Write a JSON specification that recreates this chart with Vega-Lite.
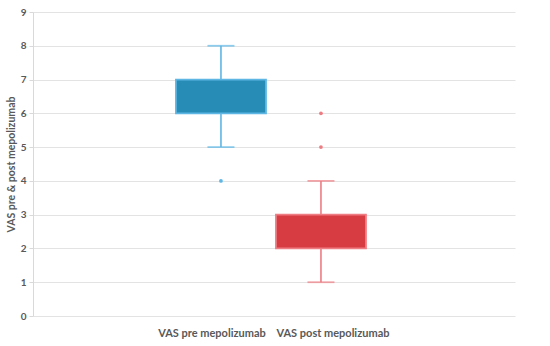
{
  "$schema": "https://vega.github.io/schema/vega-lite/v6.json",
  "width": 482,
  "height": 304,
  "autosize": {"type": "none"},
  "padding": {"left": 33, "top": 12, "right": 35, "bottom": 30},
  "background": "white",
  "config": {
    "view": {"stroke": null},
    "font": "Lato",
    "axis": {"labelFont": "Lato", "titleFont": "Lato"},
    "axisY": {
      "titleFontSize": 10.5,
      "titleFontWeight": "bold",
      "titleColor": "#595959",
      "titlePadding": 4,
      "labelOverlap": false,
      "labelFontSize": 10,
      "labelFontWeight": "bold",
      "labelColor": "#595959",
      "labelPadding": 3,
      "tickSize": 4,
      "tickColor": "#d9d9d9",
      "domainColor": "#d9d9d9",
      "gridColor": "#e3e3e3",
      "gridWidth": 1
    }
  },
  "datasets": {
    "boxes": [
      {"group": "VAS pre mepolizumab", "lower": 5, "q1": 6, "q3": 7, "upper": 8},
      {"group": "VAS post mepolizumab", "lower": 1, "q1": 2, "q3": 3, "upper": 4}
    ],
    "outliers": [
      {"group": "VAS pre mepolizumab", "value": 4},
      {"group": "VAS post mepolizumab", "value": 5},
      {"group": "VAS post mepolizumab", "value": 6}
    ]
  },
  "encoding": {
    "x": {
      "field": "group",
      "type": "nominal",
      "scale": {
        "domain": ["_l", "VAS pre mepolizumab", "VAS post mepolizumab", "_r"],
        "paddingInner": 0.1,
        "paddingOuter": 0.46,
        "align": 0.467
      },
      "axis": {
        "title": null,
        "labelAngle": 0,
        "ticks": false,
        "domain": false,
        "grid": false,
        "labelPadding": 11,
        "labelFontSize": 11,
        "labelFontWeight": "bold",
        "labelColor": "#595959",
        "labelExpr": "datum.value === '_l' || datum.value === '_r' ? '' : datum.label",
        "labelOffset": {"condition": {"test": "datum.value === 'VAS pre mepolizumab'", "value": -9}, "value": 12}
      }
    }
  },
  "layer": [
    {
      "data": {"name": "boxes"},
      "mark": {"type": "rule", "strokeWidth": 1.6},
      "encoding": {
        "y": {
          "field": "lower",
          "type": "quantitative",
          "scale": {"domain": [0, 9], "nice": false},
          "axis": {"title": "VAS pre & post mepolizumab", "values": [0, 1, 2, 3, 4, 5, 6, 7, 8, 9]}
        },
        "y2": {"field": "q1"},
        "color": {
          "field": "group",
          "type": "nominal",
          "scale": {"domain": ["VAS pre mepolizumab", "VAS post mepolizumab"], "range": ["#5db6e4", "#ee7d83"]},
          "legend": null
        }
      }
    },
    {
      "data": {"name": "boxes"},
      "mark": {"type": "rule", "strokeWidth": 1.6},
      "encoding": {
        "y": {"field": "q3", "type": "quantitative", "axis": {"title": "VAS pre & post mepolizumab", "values": [0, 1, 2, 3, 4, 5, 6, 7, 8, 9]}},
        "y2": {"field": "upper"},
        "color": {"field": "group", "type": "nominal", "legend": null}
      }
    },
    {
      "data": {"name": "boxes"},
      "mark": {"type": "tick", "size": 27, "thickness": 1.8},
      "encoding": {
        "y": {"field": "lower", "type": "quantitative", "axis": {"title": "VAS pre & post mepolizumab", "values": [0, 1, 2, 3, 4, 5, 6, 7, 8, 9]}},
        "color": {"field": "group", "type": "nominal", "legend": null}
      }
    },
    {
      "data": {"name": "boxes"},
      "mark": {"type": "tick", "size": 27, "thickness": 1.8},
      "encoding": {
        "y": {"field": "upper", "type": "quantitative", "axis": {"title": "VAS pre & post mepolizumab", "values": [0, 1, 2, 3, 4, 5, 6, 7, 8, 9]}},
        "color": {"field": "group", "type": "nominal", "legend": null}
      }
    },
    {
      "data": {"name": "boxes"},
      "mark": {"type": "bar", "size": 90, "strokeWidth": 1.8},
      "encoding": {
        "y": {"field": "q1", "type": "quantitative", "axis": {"title": "VAS pre & post mepolizumab", "values": [0, 1, 2, 3, 4, 5, 6, 7, 8, 9]}},
        "y2": {"field": "q3"},
        "fill": {
          "field": "group",
          "type": "nominal",
          "scale": {"domain": ["VAS pre mepolizumab", "VAS post mepolizumab"], "range": ["#288db6", "#d83c43"]},
          "legend": null
        },
        "stroke": {"field": "group", "type": "nominal", "scale": {"domain": ["VAS pre mepolizumab", "VAS post mepolizumab"], "range": ["#5db6e4", "#ee7d83"]}, "legend": null}
      }
    },
    {
      "data": {"name": "outliers"},
      "mark": {"type": "circle", "size": 14, "opacity": 1},
      "encoding": {
        "y": {"field": "value", "type": "quantitative", "axis": {"title": "VAS pre & post mepolizumab", "values": [0, 1, 2, 3, 4, 5, 6, 7, 8, 9]}},
        "color": {"field": "group", "type": "nominal", "legend": null}
      }
    }
  ]
}
